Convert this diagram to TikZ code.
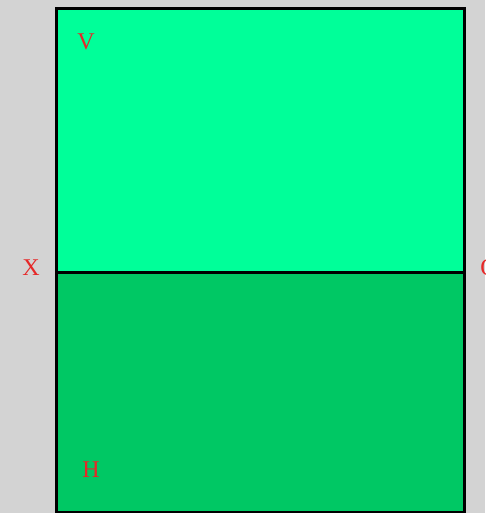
\documentclass[tikz,border=0pt]{standalone}
\usepackage{fontspec}
\setmainfont{Liberation Serif}
\usepackage{xcolor}
\usetikzlibrary{positioning}
\definecolor{paneltop}{RGB}{0,255,153}
\definecolor{panelbot}{RGB}{0,200,100}
\definecolor{backgrey}{RGB}{211,211,211}
\definecolor{labelred}{RGB}{230,40,40}

\begin{document}
\begin{tikzpicture}[x=1pt,y=-1pt,
    panel/.style={draw=black,line width=2.6pt,inner sep=0pt,anchor=north west,
        minimum width=408pt,minimum height=264pt},
    lbl/.style={text=labelred,font=\fontsize{24}{28}\selectfont,inner sep=0pt}
]
\useasboundingbox[fill=backgrey] (0,0) rectangle (485,513);
\node[panel,fill=paneltop] (upper) at (55,7) {};
\node[panel,fill=panelbot,minimum height=240pt] (lower) at (55,271) {};
\node[lbl] (v) at (86,42) {V};
\node[lbl] (h) at (91,470) {H};
\node[lbl] (x) at (31,268) {X};
\node[lbl] (o) at (489,268) {O};
\end{tikzpicture}
\end{document}
